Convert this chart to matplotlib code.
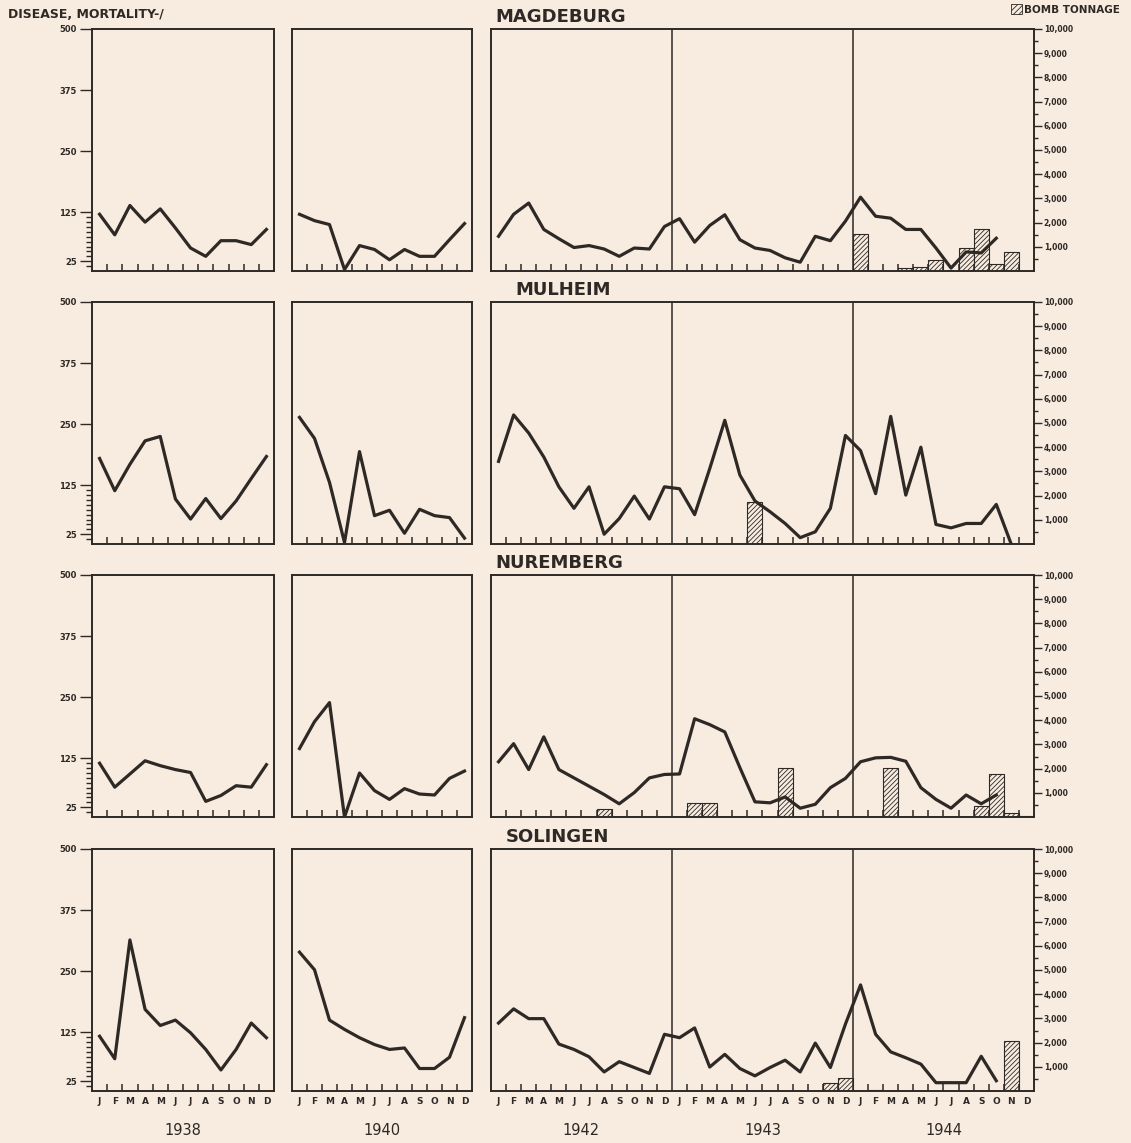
import numpy as np
import matplotlib
matplotlib.use('Agg')
import matplotlib.pyplot as plt
from matplotlib.patches import Patch

nan = np.nan

cities = ['MAGDEBURG', 'MULHEIM', 'NUREMBERG', 'SOLINGEN']
months = ['J', 'F', 'M', 'A', 'M', 'J', 'J', 'A', 'S', 'O', 'N', 'D']
years = ['1938', '1940', '1942', '1943', '1944']

# disease mortality, monthly
mag_1938 = [121, 79, 139, 105, 132, 93, 52, 35, 67, 67, 59, 90]
mag_1940 = [121, 108, 100, 8, 57, 49, 28, 49, 35, 35, 69, 102]
mag_1942_44 = [76, 121, 144, 90, 71, 53, 57, 50, 35, 52, 50, 96,
               112, 64, 98, 120, 69, 52, 47, 32, 23, 76, 67, 107,
               156, 117, 113, 90, 90, 52, 11, 44, 42, 72, nan, nan]

mul_1938 = [180, 114, 168, 216, 225, 97, 56, 98, 57, 93, 139, 184]
mul_1940 = [264, 221, 131, 8, 194, 63, 74, 27, 76, 63, 59, 17]
mul_1942_44 = [174, 269, 232, 183, 122, 78, 122, 25, 57, 103, 56, 122,
               118, 65, 159, 258, 146, 93, 71, 47, 18, 30, 78, 227,
               196, 108, 266, 105, 203, 45, 38, 47, 47, 86, 4, nan]

nur_1938 = [115, 66, 93, 120, 110, 102, 96, 37, 49, 69, 66, 112]
nur_1940 = [145, 200, 239, 5, 95, 59, 41, 63, 52, 50, 84, 99]
nur_1942_44 = [118, 155, 102, 169, 102, 85, 68, 51, 32, 55, 85, 92,
               93, 206, 194, 179, 106, 36, 34, 46, 23, 31, 65, 84,
               118, 126, 127, 119, 65, 41, 23, 50, 32, 50, nan, nan]

sol_1938 = [117, 71, 314, 172, 139, 150, 124, 90, 48, 90, 144, 114]
sol_1940 = [289, 253, 150, 131, 114, 100, 90, 93, 51, 51, 74, 155]
sol_1942_44 = [144, 173, 153, 153, 101, 90, 75, 44, 65, 53, 41, 121,
               114, 134, 54, 80, 51, 36, 53, 68, 44, 103, 53, 142,
               222, 121, 85, 73, 60, 22, 22, 22, 76, 26, nan, nan]

# bomb tonnage, monthly
mag_bombs_1940 = [0, 0, 0, 0, 0, 0, 0, 40, 40, 40, 40, 0]
mag_bombs_1942_44 = [0, 0, 0, 0, 0, 0, 0, 0, 0, 0, 0, 0,
                     0, 0, 0, 0, 0, 50, 0, 50, 0, 0, 0, 0,
                     1510, 0, 0, 140, 180, 450, 0, 930, 1740, 275, 780, 0]
mul_bombs_1942_44 = [0, 0, 0, 0, 0, 50, 0, 0, 0, 0, 0, 0,
                     0, 0, 0, 0, 0, 1740, 0, 0, 0, 0, 0, 0,
                     0, 0, 0, 0, 0, 0, 0, 0, 0, 0, 0, 0]
nur_bombs_1942_44 = [0, 0, 0, 0, 0, 0, 0, 315, 0, 0, 0, 0,
                     0, 590, 590, 0, 0, 0, 0, 2040, 0, 0, 0, 0,
                     0, 0, 2040, 0, 0, 0, 0, 0, 450, 1765, 150, 40]
sol_bombs_1942_44 = [0, 0, 0, 0, 0, 0, 0, 0, 0, 0, 0, 0,
                     0, 0, 0, 0, 0, 0, 0, 0, 0, 0, 314, 518,
                     0, 50, 0, 0, 0, 0, 0, 0, 0, 0, 2074, 0]

m38 = [mag_1938, mul_1938, nur_1938, sol_1938]
m40 = [mag_1940, mul_1940, nur_1940, sol_1940]
m42 = [mag_1942_44, mul_1942_44, nur_1942_44, sol_1942_44]
b40 = [mag_bombs_1940, None, None, None]
b42 = [mag_bombs_1942_44, mul_bombs_1942_44, nur_bombs_1942_44, sol_bombs_1942_44]

BG = '#f8ece1'
INK = '#2e2925'
plt.rcParams['font.family'] = 'DejaVu Sans'
plt.rcParams['font.weight'] = 'bold'
plt.rcParams['hatch.linewidth'] = 0.6
plt.rcParams['hatch.color'] = INK

W, H = 1131, 1143
fig = plt.figure(figsize=(W / 100, H / 100), dpi=100, facecolor=BG)

cols = [(92, 274), (292, 472), (491, 1034)]
row_tops = [29, 302, 575, 849]
ph = 242
title_x = [495, 515, 495, 506]


def px_axes(x0, x1, top):
    return fig.add_axes([x0 / W, 1 - (top + ph) / H, (x1 - x0) / W, ph / H])


def style(ax, n, bottom):
    ax.set_facecolor(BG)
    ax.set_xlim(0, n)
    ax.set_ylim(5, 500)
    for s in ax.spines.values():
        s.set_color(INK)
        s.set_linewidth(1.4)
    ax.set_xticks([k for k in range(1, n) if k % 12])
    ax.tick_params(axis='x', which='major', direction='in', length=5,
                   width=1.1, color=INK, labelbottom=False)
    ax.set_xticks(np.arange(n) + 0.5, minor=True)
    ax.set_xticklabels(months * (n // 12), minor=True)
    ax.tick_params(axis='x', which='minor', length=0, pad=4,
                   labelsize=6.5, labelcolor=INK, labelbottom=bottom)
    ax.set_yticks([])


def bars(ax, vals, show_axis):
    tw = ax.twinx()
    tw.set_ylim(0, 10000)
    for s in tw.spines.values():
        s.set_visible(False)
    xs = [i + 0.5 for i, v in enumerate(vals) if v > 0]
    hs = [v for v in vals if v > 0]
    tw.bar(xs, hs, width=1, facecolor=BG, edgecolor=INK, hatch='///////',
           linewidth=0.8)
    if show_axis:
        tw.set_yticks(range(1000, 10001, 1000))
        tw.set_yticklabels([f'{v:,}' for v in range(1000, 10001, 1000)])
        tw.set_yticks(range(500, 10000, 1000), minor=True)
        tw.tick_params(axis='y', which='major', direction='out', length=6,
                       width=1, color=INK, labelsize=5.5, labelcolor=INK, pad=1)
        tw.tick_params(axis='y', which='minor', direction='out', length=3,
                       width=1, color=INK)
    else:
        tw.set_yticks([])
    ax.set_zorder(tw.get_zorder() + 1)
    ax.patch.set_visible(False)
    return tw


for r in range(4):
    top = row_tops[r]
    last = r == 3

    a1 = px_axes(*cols[0], top)
    style(a1, 12, last)
    a1.plot(np.arange(12) + 0.5, m38[r], color=INK, lw=2.3)
    a1.set_yticks([25, 125, 250, 375, 500])
    a1.set_yticks(np.arange(15, 125, 10), minor=True)
    a1.tick_params(axis='y', which='major', direction='out', length=9,
                   width=1, color=INK, labelsize=6, labelcolor=INK, pad=2)
    a1.tick_params(axis='y', which='minor', direction='out', length=4,
                   width=1, color=INK)

    a2 = px_axes(*cols[1], top)
    style(a2, 12, last)
    if b40[r] is not None:
        bars(a2, b40[r], False)
    a2.plot(np.arange(12) + 0.5, m40[r], color=INK, lw=2.3)

    a3 = px_axes(*cols[2], top)
    style(a3, 36, last)
    bars(a3, b42[r], True)
    a3.axvline(12, color=INK, lw=1.1)
    a3.axvline(24, color=INK, lw=1.1)
    a3.plot(np.arange(36) + 0.5, m42[r], color=INK, lw=2.3)

    fig.text(title_x[r] / W, 1 - (top - 12) / H, cities[r], fontsize=13,
             color=INK, ha='left', va='center')

    if last:
        yl = -0.165
        a1.text(6, yl, years[0], transform=a1.get_xaxis_transform(),
                ha='center', va='center', fontsize=10.5, color=INK, weight='normal')
        a2.text(6, yl, years[1], transform=a2.get_xaxis_transform(),
                ha='center', va='center', fontsize=10.5, color=INK, weight='normal')
        for k in range(3):
            a3.text(6 + 12 * k, yl, years[2 + k], transform=a3.get_xaxis_transform(),
                    ha='center', va='center', fontsize=10.5, color=INK, weight='normal')

fig.text(8 / W, 1 - 14 / H, 'DISEASE, MORTALITY-/', fontsize=9, color=INK,
         ha='left', va='center')

fig.legend(handles=[Patch(facecolor=BG, edgecolor=INK, hatch='//////', lw=0.6)],
           labels=['BOMB TONNAGE'], loc='upper right', frameon=False,
           bbox_to_anchor=(1122 / W, 1 - 2 / H), fontsize=7.5, labelcolor=INK,
           handlelength=1.1, handleheight=1.1, handletextpad=0.2,
           borderpad=0.2, borderaxespad=0)

fig.savefig('out.png', dpi=100, facecolor=BG)
